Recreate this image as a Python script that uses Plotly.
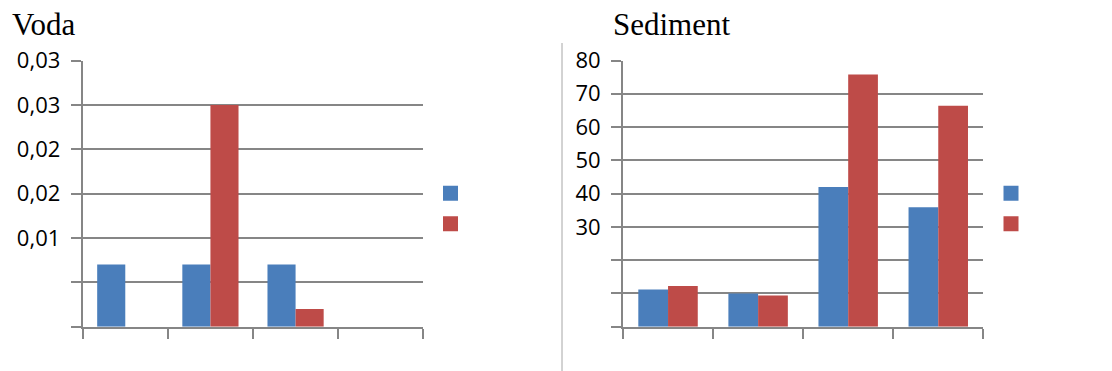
import plotly.graph_objects as go

# Sampling sites (category labels are not shown on the axis)
sites = ["1", "2", "3", "4"]

# Voda panel values
voda_blue = [0.007, 0.007, 0.007, 0]
voda_red = [0, 0.025, 0.002, 0]
voda_ticks = [0, 0.005, 0.01, 0.015, 0.02, 0.025, 0.03]
voda_ticktext = ["", "", "0,01", "0,02", "0,02", "0,03", "0,03"]

# Sediment panel values
sed_blue = [11.2, 10.0, 42.0, 35.9]
sed_red = [12.2, 9.4, 75.8, 66.4]
sed_ticks = [0, 10, 20, 30, 40, 50, 60, 70, 80]
sed_ticktext = ["", "", "", "30", "40", "50", "60", "70", "80"]

BLUE = "#4a7ebb"
RED = "#be4b48"
GRID = "#868686"
W, H = 1112, 371

fig = go.Figure()

panels = [("x", "y", "legend", voda_blue, voda_red),
          ("x2", "y2", "legend2", sed_blue, sed_red)]
for xa, ya, lg, blue_vals, red_vals in panels:
    fig.add_trace(go.Bar(x=sites, y=blue_vals, marker_color=BLUE, marker_line_width=0,
                         xaxis=xa, yaxis=ya, showlegend=False))
    fig.add_trace(go.Bar(x=sites, y=red_vals, marker_color=RED, marker_line_width=0,
                         xaxis=xa, yaxis=ya, showlegend=False))
    # legend keys (square swatches, no series names)
    for col in (BLUE, RED):
        fig.add_trace(go.Scatter(x=[None], y=[None], mode="markers", name="",
                                 marker=dict(symbol="square", size=15, color=col),
                                 xaxis=xa, yaxis=ya, legend=lg))

tick_font = dict(family="Open Sans", size=22, color="#000000")

def xaxis_style(domain, anchor):
    return dict(domain=domain, anchor=anchor, type="category", range=[-0.5, 3.5],
                tickson="boundaries", ticks="outside", ticklen=10, tickwidth=2,
                tickcolor=GRID, showline=True, linecolor=GRID, linewidth=2,
                showticklabels=False, showgrid=False, zeroline=False,
                automargin=False, fixedrange=True)

def yaxis_style(anchor, rng, tickvals, ticktext):
    return dict(domain=[0.1194, 0.8369], anchor=anchor, range=rng,
                tickmode="array", tickvals=tickvals, ticktext=ticktext,
                ticks="outside", ticklen=10, tickwidth=2, tickcolor=GRID,
                showgrid=True, gridcolor=GRID, gridwidth=2,
                showline=True, linecolor=GRID, linewidth=2, zeroline=False,
                tickfont=tick_font, ticklabelstandoff=6, automargin=False,
                fixedrange=True)

legend_common = dict(font=dict(size=21), bgcolor="rgba(0,0,0,0)",
                     itemclick=False, itemdoubleclick=False, itemsizing="trace",
                     xanchor="left", yanchor="middle", tracegroupgap=0)

fig.update_layout(
    template="none",
    width=W, height=H,
    margin=dict(l=0, r=0, t=0, b=0, autoexpand=False),
    paper_bgcolor="white", plot_bgcolor="white",
    barmode="group", bargap=0.34, bargroupgap=0,
    xaxis=xaxis_style([82.7 / W, 423.3 / W], "y"),
    yaxis=yaxis_style("x", [0, 0.03], voda_ticks, voda_ticktext),
    xaxis2=xaxis_style([623 / W, 983.3 / W], "y2"),
    yaxis2=yaxis_style("x2", [0, 80], sed_ticks, sed_ticktext),
    legend=dict(x=430.5 / W, y=1 - 208.7 / H, **legend_common),
    legend2=dict(x=991 / W, y=1 - 208.7 / H, **legend_common),
    annotations=[
        dict(text="Voda", x=10 / W, y=1 - 24.5 / H, xref="paper", yref="paper",
             xanchor="left", yanchor="middle", showarrow=False,
             font=dict(family="Liberation Serif", size=31, color="#000000")),
        dict(text="Sediment", x=610.7 / W, y=1 - 24.5 / H, xref="paper", yref="paper",
             xanchor="left", yanchor="middle", showarrow=False,
             font=dict(family="Liberation Serif", size=31, color="#000000")),
    ],
    shapes=[
        dict(type="line", xref="paper", yref="paper",
             x0=562 / W, x1=562 / W, y0=0, y1=1 - 43 / H,
             line=dict(color="#a6a6a6", width=1)),
    ],
)

fig.write_html("out.html", config={"displayModeBar": False})
